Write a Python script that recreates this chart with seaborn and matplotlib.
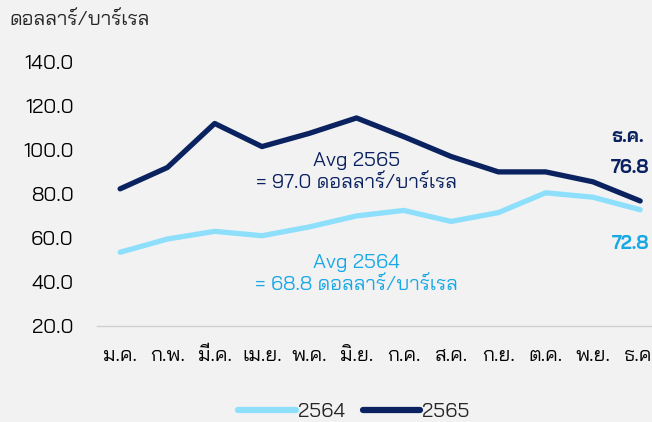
import matplotlib
matplotlib.use("Agg")
import matplotlib.pyplot as plt
import seaborn as sns
import pandas as pd

months = ["ม.ค.", "ก.พ.", "มี.ค.", "เม.ย.", "พ.ค.", "มิ.ย.", "ก.ค.", "ส.ค.", "ก.ย.", "ต.ค.", "พ.ย.", "ธ.ค."]
price_2564 = [53.5, 59.5, 63.0, 61.0, 65.0, 70.0, 72.5, 67.5, 71.5, 80.5, 78.5, 72.8]
price_2565 = [82.3, 92.0, 112.0, 101.5, 107.5, 114.5, 106.0, 97.0, 90.0, 90.0, 85.5, 76.8]
years = ["2564", "2565"]
avg_2564 = 68.8
avg_2565 = 97.0
unit = "ดอลลาร์/บาร์เรล"
yticks = [20, 40, 60, 80, 100, 120, 140]

light = "#8ddffc"
dark = "#0b2260"
light_text = "#18a8e6"
bg = "#f2f2f2"

df = pd.DataFrame({
    "month": list(range(len(months))) * 2,
    "price": price_2564 + price_2565,
    "year": [years[0]] * len(months) + [years[1]] * len(months),
})

sns.set_style("white")
plt.rcParams["font.family"] = ["Bai Jamjuree", "DejaVu Sans"]
fs = 14.5

fig = plt.figure(figsize=(6.52, 4.22), dpi=100, facecolor=bg)
ax = fig.add_axes([0.149, 0.2275, 0.851, 0.626])
ax.set_facecolor(bg)

sns.lineplot(data=df, x="month", y="price", hue="year", palette=[light, dark],
             linewidth=3.8, ax=ax, legend=False)

ax.set_ylim(20, 140)
ax.set_xlim(-0.486, 11.25)
ax.set_yticks(yticks)
ax.set_yticklabels([f"{v:.1f}" for v in yticks])
ax.set_xticks(range(len(months)))
ax.set_xticklabels(months)
ax.tick_params(axis="both", length=0, labelsize=fs, colors="#000000")
ax.tick_params(axis="y", pad=17)
ax.tick_params(axis="x", pad=15)
ax.set_xlabel("")
ax.set_ylabel("")
for s in ["top", "left", "right"]:
    ax.spines[s].set_visible(False)
ax.spines["bottom"].set_color("#d0d0d0")
ax.spines["bottom"].set_linewidth(1.0)

fig.text(0.015, 0.952, unit, fontsize=fs, ha="left", va="center")

ax.text(5, 89.8, f"Avg {years[1]}\n= {avg_2565:.1f} {unit}", color=dark, fontsize=fs,
        ha="center", va="center", linespacing=1.3)
ax.text(5, 43.5, f"Avg {years[0]}\n= {avg_2564:.1f} {unit}", color=light_text, fontsize=fs,
        ha="center", va="center", linespacing=1.3)
ax.text(10.74, 105.9, months[-1], color=dark, fontsize=13.5, fontweight="bold", ha="center", va="center")
ax.text(10.78, 91.8, f"{price_2565[-1]:.1f}", color=dark, fontsize=13.5, fontweight="bold", ha="center", va="center")
ax.text(10.8, 57.3, f"{price_2564[-1]:.1f}", color=light_text, fontsize=13.5, fontweight="bold", ha="center", va="center")

handles = [plt.Line2D([], [], color=light, linewidth=4.5), plt.Line2D([], [], color=dark, linewidth=4.5)]
fig.legend(handles, years, loc="center", bbox_to_anchor=(0.543, 0.024), ncol=2, frameon=False,
           fontsize=fs, handlelength=2.85, handletextpad=0.1, columnspacing=0.9)

fig.savefig("out.png", dpi=100, facecolor=bg)
